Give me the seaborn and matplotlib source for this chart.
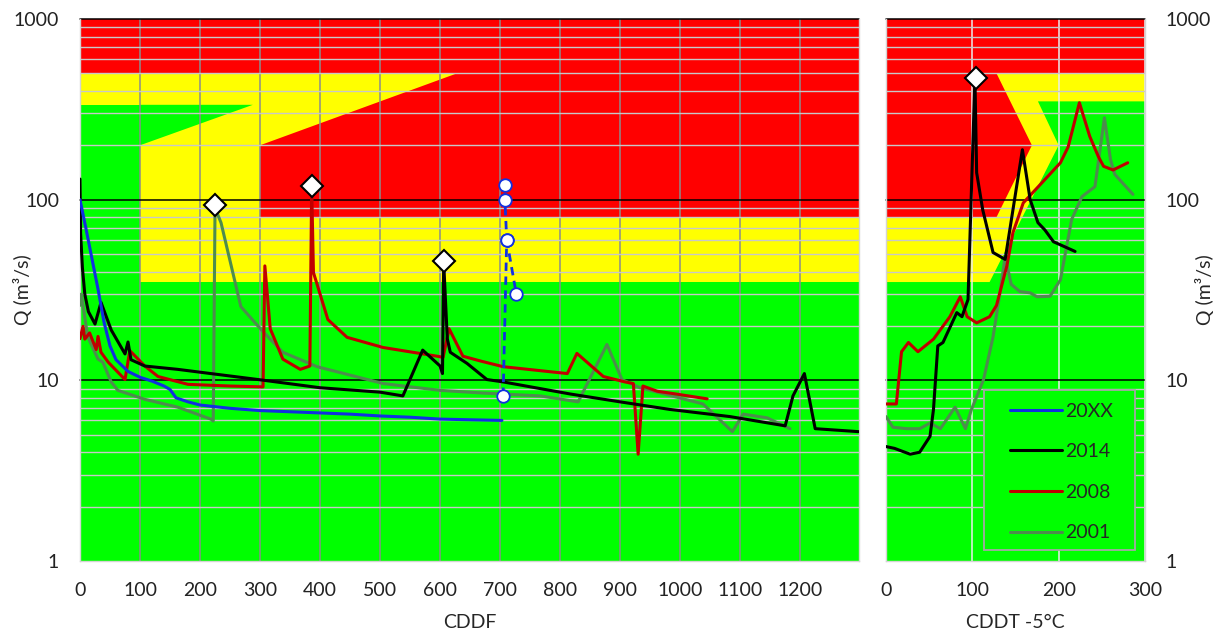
import matplotlib.pyplot as plt
import matplotlib.ticker as mtick
from matplotlib.lines import Line2D
from matplotlib.patches import Rectangle
import pandas as pd
import seaborn as sns

# ---- left panel: discharge Q (m3/s) against CDDF ----
cddf_20xx = [0, 10, 20, 30, 40, 50, 60, 80, 100, 120, 140, 150, 160, 180, 200, 250,
             300, 350, 400, 450, 500, 550, 600, 650, 703]
q_20xx = [100, 69, 47, 32, 21, 15.5, 13, 11.2, 10.4, 9.9, 9.3, 8.9, 8.0, 7.6, 7.3, 7.0,
          6.8, 6.7, 6.6, 6.5, 6.35, 6.25, 6.1, 6.05, 6.0]

cddf_2014 = [0, 1, 4, 8, 14, 25, 35, 52, 75, 80, 85, 108, 163, 218, 297, 400, 500, 538,
             571, 600, 604, 606, 612, 617, 645, 678, 705, 817, 900, 983, 1083, 1175,
             1188, 1207, 1225, 1297]
q_2014 = [130, 65, 42, 30, 24, 20.5, 27, 19, 14, 16.3, 13, 12, 11.5, 10.9, 10.1, 9.1,
          8.6, 8.2, 14.7, 12, 10.9, 45, 17, 14.3, 12.4, 10.1, 9.8, 8.4, 7.6, 6.9, 6.3,
          5.6, 8.2, 10.9, 5.4, 5.2]

cddf_2008 = [0, 5, 8, 16, 27, 30, 35, 47, 75, 83, 108, 130, 180, 250, 305, 308, 317,
             338, 367, 383, 386, 389, 413, 445, 505, 595, 605, 615, 638, 667, 705, 812,
             828, 872, 908, 922, 930, 938, 962, 983, 1045]
q_2008 = [17, 19.9, 16.9, 18.3, 14.8, 17.5, 14.3, 12.6, 10.1, 14.6, 12, 10.5, 9.5, 9.3,
          9.2, 43, 19.3, 13.1, 11.5, 12, 119, 39.5, 21.7, 17.3, 15.2, 13.6, 13.4, 19.3,
          13.6, 12.8, 11.9, 10.9, 14.1, 10.5, 9.8, 9.6, 3.9, 9.3, 8.7, 8.5, 7.9]

cddf_2001 = [0, 2, 13, 30, 38, 52, 63, 108, 163, 218, 222, 225, 235, 268, 297, 317, 338,
             395, 505, 600, 672, 767, 830, 878, 903, 933, 962, 1038, 1087, 1105, 1145, 1183]
q_2001 = [26, 30, 17.4, 13.1, 12.6, 9.8, 8.8, 7.85, 7.1, 6.1, 5.95, 90, 74.5, 25.6, 19.9,
          16.9, 14.3, 11.9, 9.6, 8.8, 8.5, 8.2, 7.6, 15.8, 10.1, 9.1, 8.6, 7.4, 5.2, 6.5,
          6.2, 5.4]

# 20XX forecast (dashed, open circles)
forecast_cddf = [705, 711, 708, 708]
forecast_q = [8.2, 60, 100, 120]
branch_cddf = [711, 727]
branch_q = [60, 30]

peak_cddf = [225, 386, 606]
peak_q = [93, 119, 46]

# ---- right panel: Q against CDDT -5°C ----
cddt_2014 = [0, 10, 28, 39, 51, 55, 60, 66, 82, 88, 95, 103, 105, 112, 124, 138, 158,
             167, 176, 184, 194, 219]
qr_2014 = [4.3, 4.2, 3.9, 4.0, 4.9, 6.9, 15.5, 16.2, 23.7, 22.5, 28, 470, 141, 88, 51,
           46.7, 189, 100, 74.6, 68, 58.5, 51.7]

cddt_2008 = [0, 12, 18, 26, 37, 55, 74, 86, 94, 105, 120, 128, 140, 147, 159, 202, 211,
             224, 236, 246, 252, 263, 280]
qr_2008 = [7.4, 7.4, 14.4, 16.2, 14.4, 16.9, 22.5, 29, 22.5, 20.8, 22.5, 26, 43, 65.6,
           96, 160, 196, 344, 224, 173, 153, 146, 160]

cddt_2001 = [0, 8, 24, 39, 51, 63, 80, 92, 99, 113, 124, 132, 138, 145, 155, 167, 175,
             190, 202, 215, 227, 242, 253, 260, 265, 286]
qr_2001 = [6.3, 5.5, 5.4, 5.4, 5.8, 5.4, 7.1, 5.4, 6.9, 10.1, 17.4, 30.5, 48.5, 34, 31,
           30.5, 29, 29.2, 36, 77.6, 104, 118, 284, 167, 138, 107]

peak_cddt = [104]
peak_qr = [472]

years = ["20XX", "2014", "2008", "2001"]

# ---- warning zone thresholds (Q) ----
left_zone_x = [0, 100, 288, 300, 628, 1298]
right_zone_x = [0, 120, 128, 169, 176, 200, 300]
q_low, q_mid, q_green, q_diag, q_yellow_top, q_top = 35, 80, 335, 200, 500, 1000
q_green_r = 350

RED, YELLOW, GREEN = "#ff0000", "#ffff00", "#00ff00"
colors = {"20XX": "#1030e0", "2014": "#000000", "2008": "#c00000", "2001": "#4e8c4e"}

sns.set_theme(style="white")
plt.rcParams["font.family"] = ["Lato", "DejaVu Sans"]
plt.rcParams["font.size"] = 14

fig = plt.figure(figsize=(12.29, 6.35), dpi=100)
ax1 = fig.add_axes([80 / 1229, 74 / 635, 779 / 1229, 542 / 635])
ax2 = fig.add_axes([886 / 1229, 74 / 635, 259 / 1229, 542 / 635])

# background zones
x0, x1, x2, x3, x4, xm = left_zone_x
ax1.set_facecolor(GREEN)
ax1.fill([x0, x1, x1, xm, xm, x0], [q_green, q_green, q_low, q_low, q_yellow_top, q_yellow_top],
         color=YELLOW, lw=0, zorder=0.1)
ax1.fill([x1, x2, x1], [q_diag, q_green, q_green], color=GREEN, lw=0, zorder=0.1)
ax1.fill([x0, xm, xm, x0], [q_yellow_top, q_yellow_top, q_top, q_top], color=RED, lw=0, zorder=0.1)
ax1.fill([x3, xm, xm, x4, x3], [q_mid, q_mid, q_yellow_top, q_yellow_top, q_diag],
         color=RED, lw=0, zorder=0.1)

r0, r1, r2, r3, r4, r5, rm = right_zone_x
ax2.set_facecolor(GREEN)
ax2.fill([r0, r1, r5, r4, rm, rm, r0],
         [q_low, q_low, q_diag, q_green_r, q_green_r, q_yellow_top, q_yellow_top],
         color=YELLOW, lw=0, zorder=0.1)
ax2.fill([r0, r2, r3, r2, r0], [q_mid, q_mid, q_diag, q_yellow_top, q_yellow_top],
         color=RED, lw=0, zorder=0.1)
ax2.fill([r0, rm, rm, r0], [q_yellow_top, q_yellow_top, q_top, q_top], color=RED, lw=0, zorder=0.1)

# series
left_df = pd.concat([
    pd.DataFrame({"CDDF": cddf_2001, "Q": q_2001, "year": "2001"}),
    pd.DataFrame({"CDDF": cddf_2008, "Q": q_2008, "year": "2008"}),
    pd.DataFrame({"CDDF": cddf_2014, "Q": q_2014, "year": "2014"}),
    pd.DataFrame({"CDDF": cddf_20xx, "Q": q_20xx, "year": "20XX"}),
])
right_df = pd.concat([
    pd.DataFrame({"CDDT": cddt_2001, "Q": qr_2001, "year": "2001"}),
    pd.DataFrame({"CDDT": cddt_2008, "Q": qr_2008, "year": "2008"}),
    pd.DataFrame({"CDDT": cddt_2014, "Q": qr_2014, "year": "2014"}),
])

for ax in (ax1, ax2):
    ax.set_yscale("log")

sns.lineplot(data=left_df, x="CDDF", y="Q", hue="year", palette=colors, sort=False,
             estimator=None, linewidth=2.2, legend=False, ax=ax1, zorder=3)
sns.lineplot(data=right_df, x="CDDT", y="Q", hue="year", palette=colors, sort=False,
             estimator=None, linewidth=2.2, legend=False, ax=ax2, zorder=3)

for xs, qs in ((forecast_cddf, forecast_q), (branch_cddf, branch_q)):
    ax1.plot(xs, qs, color=colors["20XX"], lw=2, ls=(0, (3, 2)), marker="o", ms=9,
             mfc="white", mec=colors["20XX"], mew=1.3, zorder=4)

ax1.plot(peak_cddf, peak_q, ls="none", marker="D", ms=11, mfc="white", mec="black",
         mew=1.5, zorder=5)
ax2.plot(peak_cddt, peak_qr, ls="none", marker="D", ms=11, mfc="white", mec="black",
         mew=1.5, zorder=5)

# axes, grids, ticks
for ax, xmax, xticks, vgrid in ((ax1, xm, range(0, 1201, 100), "#8c8c8c"),
                                (ax2, rm, range(0, 301, 100), "#ececec")):
    ax.set_xlim(0, xmax)
    ax.set_ylim(1, 1000)
    ax.set_xticks(list(xticks))
    ax.yaxis.set_major_locator(mtick.FixedLocator([1, 10, 100, 1000]))
    ax.yaxis.set_major_formatter(mtick.FuncFormatter(lambda v, p: f"{v:g}"))
    ax.yaxis.set_minor_locator(mtick.LogLocator(base=10, subs=range(2, 10)))
    ax.yaxis.set_minor_formatter(mtick.NullFormatter())
    ax.set_axisbelow(True)
    ax.grid(which="minor", axis="y", color="#c8c8c8", lw=1.0)
    ax.grid(which="major", axis="y", visible=False)
    ax.grid(which="major", axis="x", color=vgrid, lw=1.1)
    for q in (10, 100, 1000):
        ax.axhline(q, color="black", lw=1.1, zorder=0.6, clip_on=False)
    ax.tick_params(which="both", length=0, pad=15, labelsize=14, colors="#222222")
    for side in ("left", "right", "bottom"):
        ax.spines[side].set_color("#d4d4d4")
        ax.spines[side].set_linewidth(1)
    ax.spines["top"].set_visible(False)

ax2.yaxis.tick_right()
ax2.yaxis.set_label_position("right")

ax1.set_xlabel("CDDF", fontsize=14)
ax2.set_xlabel("CDDT -5°C", fontsize=14)
ax1.set_ylabel("Q (m³/s)", fontsize=14)
ax2.set_ylabel("Q (m³/s)", fontsize=14)
ax1.xaxis.set_label_coords(0.5, -0.097)
ax2.xaxis.set_label_coords(0.5, -0.097)
ax1.yaxis.set_label_coords(-0.0616, 0.5)
ax2.yaxis.set_label_coords(1.193, 0.5)

# legend box
ax2.add_patch(Rectangle((0.378, 0.020), 0.583, 0.295, transform=ax2.transAxes,
                        facecolor=GREEN, edgecolor="#a6a6a6", lw=1.3, zorder=6))
handles = [Line2D([], [], color=colors[y], lw=2.2) for y in years]
ax2.legend(handles, years, loc="upper left", bbox_to_anchor=(0.479, 0.292),
           frameon=False, borderpad=0, borderaxespad=0, handlelength=2.68,
           handletextpad=0.15, labelspacing=1.21, fontsize=14).set_zorder(7)

fig.savefig("out.png", dpi=100)
